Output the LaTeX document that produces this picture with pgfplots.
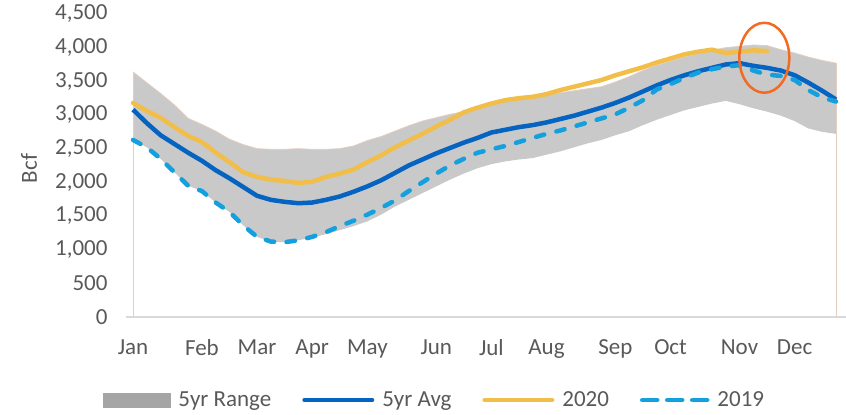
\documentclass[border=0pt]{standalone}
\usepackage{fontspec}
\setmainfont{Carlito}
\usepackage{pgfplots}
\pgfplotsset{compat=1.18}
\usepgfplotslibrary{fillbetween}
\usepackage{pgfplotstable}

\definecolor{rangegray}{HTML}{C9C9C9}
\definecolor{leggray}{HTML}{A5A5A5}
\definecolor{avgblue}{HTML}{0563C1}
\definecolor{gold}{HTML}{F2BE4A}
\definecolor{ltblue}{HTML}{14A0DE}
\definecolor{txtgray}{HTML}{595959}
\definecolor{edgecol}{HTML}{E3CDBF}
\definecolor{ringorange}{HTML}{F26B23}
\definecolor{axgray}{HTML}{D9D9D9}

\pgfplotstableread{
x up lo
0 3640 2630
1 3480 2520
2 3320 2350
3 3150 2150
4 2950 1950
5 2860 1870
6 2760 1700
7 2640 1560
8 2560 1360
9 2500 1190
10 2490 1120
11 2490 1110
12 2500 1140
13 2490 1180
14 2490 1230
15 2500 1290
16 2540 1350
17 2620 1420
18 2680 1520
19 2760 1640
20 2840 1740
21 2910 1840
22 2960 1940
23 3010 2040
24 3050 2130
25 3100 2210
26 3150 2270
27 3200 2310
28 3230 2340
29 3260 2360
30 3290 2410
31 3330 2460
32 3360 2520
33 3390 2580
34 3420 2630
35 3490 2700
36 3570 2760
37 3660 2850
38 3740 2930
39 3800 3000
40 3860 3070
41 3910 3120
42 3960 3170
43 4000 3210
44 4020 3160
45 4040 3100
46 4030 3050
47 3970 2990
48 3920 2910
49 3860 2800
50 3810 2750
51 3770 2720
}\rangetab

\pgfplotstableread{
x y
0 3080
1 2880
2 2700
3 2570
4 2440
5 2320
6 2180
7 2060
8 1930
9 1800
10 1740
11 1710
12 1690
13 1700
14 1740
15 1790
16 1860
17 1940
18 2030
19 2140
20 2250
21 2340
22 2430
23 2510
24 2590
25 2660
26 2740
27 2780
28 2820
29 2850
30 2890
31 2940
32 2990
33 3050
34 3110
35 3180
36 3260
37 3350
38 3440
39 3520
40 3590
41 3650
42 3700
43 3750
44 3770
45 3730
46 3700
47 3660
48 3590
49 3480
50 3360
51 3230
}\avgtab

\pgfplotstableread{
x y
0 3180
1 3060
2 2960
3 2820
4 2690
5 2600
6 2440
7 2300
8 2150
9 2080
10 2040
11 2020
12 1990
13 2010
14 2080
15 2130
16 2190
17 2300
18 2400
19 2520
20 2620
21 2720
22 2830
23 2930
24 3040
25 3110
26 3170
27 3220
28 3250
29 3270
30 3310
31 3370
32 3420
33 3470
34 3520
35 3590
36 3650
37 3710
38 3780
39 3840
40 3900
41 3940
42 3970
43 3920
44 3940
45 3960
46 3950
}\twentytab

\pgfplotstableread{
x y
0 2630
1 2520
2 2350
3 2150
4 1950
5 1870
6 1700
7 1560
8 1360
9 1190
10 1120
11 1110
12 1140
13 1190
14 1260
15 1350
16 1430
17 1520
18 1620
19 1730
20 1870
21 2000
22 2130
23 2250
24 2350
25 2440
26 2490
27 2540
28 2600
29 2660
30 2720
31 2770
32 2830
33 2890
34 2950
35 3010
36 3110
37 3220
38 3380
39 3460
40 3550
41 3630
42 3680
43 3720
44 3740
45 3660
46 3600
47 3580
48 3520
49 3370
50 3260
51 3200
}\nineteentab

\begin{document}
\begin{tikzpicture}
\begin{axis}[
  scale only axis,
  width=703bp, height=303bp,
  at={(0,0)}, anchor=south west,
  xmin=0, xmax=51, ymin=0, ymax=4500,
  axis line style={draw=none},
  clip=false,
  major tick length=0pt,
  xtick={0,5,9,13,17,22,26,30,35,39,44,48},
  xticklabels={Jan,Feb,Mar,Apr,May,Jun,Jul,Aug,Sep,Oct,Nov,Dec},
  ytick={0,500,...,4500},
  scaled y ticks=false,
  /pgf/number format/assume math mode=true,
  yticklabel style={/pgf/number format/fixed, /pgf/number format/1000 sep={,}, font=\fontsize{23bp}{27bp}\selectfont, text=txtgray, xshift=-22bp},
  xticklabel style={font=\fontsize{23bp}{27bp}\selectfont, text=txtgray, yshift=-19bp},
  ylabel={Bcf},
  ylabel style={at={(axis description cs:-0.148,0.49)}, anchor=center, font=\fontsize{23bp}{27bp}\selectfont, text=txtgray},
  legend columns=4,
  legend style={draw=none, fill=none, at={(axis description cs:0.4275,-0.274)}, anchor=center, inner sep=0pt,
    font=\fontsize{23bp}{27bp}\selectfont, text=txtgray,
    nodes={inner xsep=0pt},
    /tikz/every odd column/.append style={column sep=8bp},
    /tikz/every even column/.append style={column sep=31bp}},
]
\addplot[name path=upper, draw=none, forget plot] table[x=x, y=up] {\rangetab};
\addplot[name path=lower, draw=none, forget plot] table[x=x, y=lo] {\rangetab};
\addplot[fill=rangegray, draw=none, forget plot] fill between[of=upper and lower];
\addplot[edgecol, line width=0.8bp, forget plot] table[x=x, y=up] {\rangetab};
\addplot[edgecol, line width=0.8bp, forget plot] coordinates {(0,0) (0,3640)};
\addplot[edgecol, line width=0.8bp, forget plot] coordinates {(51,0) (51,3770)};
\addplot[axgray, line width=1.5bp, forget plot] coordinates {(-0.5,0) (52,0)};
\addplot[avgblue, line width=4.5bp, line join=round, forget plot] table[x=x, y=y] {\avgtab};
\addplot[gold, line width=4.5bp, line join=round, line cap=round, forget plot] table[x=x, y=y] {\twentytab};
\addplot[ltblue, line width=4.5bp, line join=round, line cap=round, dash pattern=on 8.5bp off 12.5bp, forget plot] table[x=x, y=y] {\nineteentab};
\draw[ringorange, line width=2.5bp] (axis cs:45.8,3850) ellipse [x radius=25bp, y radius=35bp];

\addlegendimage{legend image code/.code={\fill[leggray] (0bp,-7bp) rectangle (67bp,7bp);}}
\addlegendentry{5yr Range}
\addlegendimage{legend image code/.code={\draw[avgblue, line width=4.5bp, line cap=round] (2.25bp,0bp) -- (69.75bp,0bp);}}
\addlegendentry{5yr Avg}
\addlegendimage{legend image code/.code={\draw[gold, line width=4.5bp, line cap=round] (2.25bp,0bp) -- (69.75bp,0bp);}}
\addlegendentry{2020}
\addlegendimage{legend image code/.code={\draw[ltblue, line width=4.5bp, line cap=round, dash pattern=on 15bp off 10bp] (2.25bp,0bp) -- (67.25bp,0bp);}}
\addlegendentry{2019}
\end{axis}
\pgfresetboundingbox
\path[use as bounding box] (-133bp,-98bp) rectangle (713bp,317bp);
\end{tikzpicture}
\end{document}
